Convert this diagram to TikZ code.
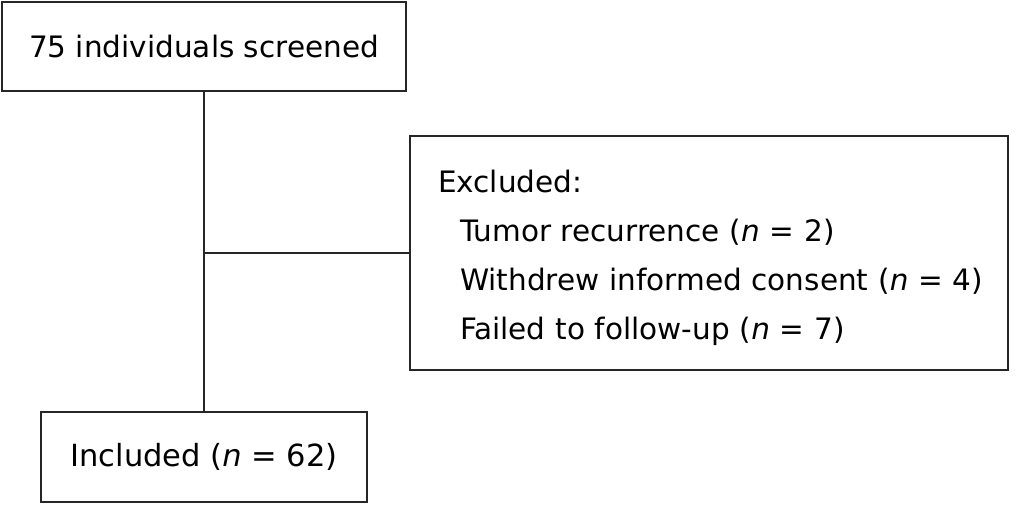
\documentclass[tikz,border=0pt]{standalone}
\usepackage{fontspec}
\setmainfont{DejaVu Sans}
\usetikzlibrary{positioning}

\begin{document}
\begin{tikzpicture}[x=1pt,y=-1pt,
  flow box/.style={draw=black!85,line width=1.3pt,inner sep=0pt,font=\fontsize{29.5}{49}\selectfont},
  link/.style={draw=black!85,line width=1.3pt}]

 \useasboundingbox (0,0) rectangle (1025,522);

 \node[flow box,minimum width=404pt,minimum height=89pt] (screened) at (204,46.5) {75 individuals screened};
 \node[flow box,minimum width=598pt,minimum height=234pt,text width=542pt,align=left] (excluded) at (709,253)
   {\rule{0pt}{33pt}Excluded:\\
    \mbox{\hspace*{22pt}Tumor recurrence (\textit{n} = 2)}\\
    \mbox{\hspace*{22pt}Withdrew informed consent (\textit{n} = 4)}\\
    \mbox{\hspace*{22pt}Failed to follow-up (\textit{n} = 7)}};
 \node[flow box,minimum width=326pt,minimum height=90pt,font=\fontsize{30.5}{49}\selectfont] (included) at (204,457) {Included (\textit{n} = 62)};

 \coordinate (split) at (screened.south |- excluded.west);

 \path[link] (screened.south) -- (included.north);
 \path[link] (split) -- (excluded.west);

\end{tikzpicture}
\end{document}
